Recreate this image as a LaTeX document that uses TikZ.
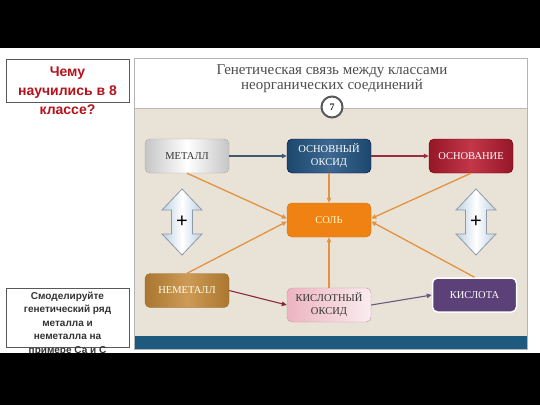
\documentclass[tikz,border=0pt]{standalone}
\usepackage{fontspec}
\setmainfont{Liberation Serif}
\setsansfont{Liberation Sans}
\usetikzlibrary{arrows.meta}
\definecolor{beige}{HTML}{E9E3D7}
\definecolor{pborder}{HTML}{B4B4B4}
\definecolor{band}{HTML}{1E5A7E}
\definecolor{titlec}{HTML}{4D4D4D}
\definecolor{qred}{HTML}{B5121B}
\definecolor{orangel}{HTML}{E29240}
\definecolor{dblfill}{HTML}{BCD0E2}
\definecolor{dbledge}{HTML}{8C9BAA}
\tikzset{
  box/.style={rounded corners=5pt, minimum width=84pt, minimum height=34pt, inner sep=0pt, align=center, font=\fontsize{10.5}{13}\selectfont},
  arr/.style={line width=1.1pt, -{Triangle[length=5pt,width=4.5pt]}},
  oarr/.style={arr, draw=orangel, line width=1.3pt},
  dbl/.style={draw=dbledge, line width=0.8pt, left color=dblfill, right color=dblfill, middle color=white},
}
\begin{document}
\begin{tikzpicture}[x=1pt,y=-1pt]
\useasboundingbox (0,0) rectangle (540,405);
\fill[white] (0,0) rectangle (540,405);
% panel
\fill[white] (134,58) rectangle (527,108);
\fill[beige] (134,108) rectangle (527,336);
\fill[band] (134,336) rectangle (527,349);
\draw[pborder, line width=0.8pt] (134,58) rectangle (527,349);
\draw[gray!55, line width=1pt] (134,108) -- (527,108);
\node[font=\fontsize{15}{15}\selectfont, text=titlec, align=center] (title) at (332,79) {Генетическая связь между классами\\неорганических соединений};
\node[circle, draw=gray!70!black, line width=2pt, fill=white, minimum size=21pt, inner sep=0pt, font=\fontsize{10}{10}\selectfont\bfseries, text=gray!30!black] (num) at (332,107) {7};
% nodes
\node[box, draw=gray!70, left color=gray!45, right color=gray!45, middle color=white, text=black!80] (met) at (187,156) {МЕТАЛЛ};
\node[box, draw=blue!30!black, left color={rgb,255:red,28;green,72;blue,110}, right color={rgb,255:red,28;green,72;blue,110}, middle color={rgb,255:red,60;green,104;blue,145}, text=white] (oo) at (329,156) {ОСНОВНЫЙ\\ОКСИД};
\node[box, draw=red!40!black, left color={rgb,255:red,150;green,22;blue,40}, right color={rgb,255:red,150;green,22;blue,40}, middle color={rgb,255:red,195;green,55;blue,72}, text=white] (osn) at (471,156) {ОСНОВАНИЕ};
\node[box, draw={rgb,255:red,210;green,110;blue,10}, fill={rgb,255:red,240;green,130;blue,20}, text=yellow!20!white] (sol) at (329,220) {СОЛЬ};
\node[box, draw={rgb,255:red,150;green,105;blue,45}, left color={rgb,255:red,170;green,118;blue,48}, right color={rgb,255:red,170;green,118;blue,48}, middle color={rgb,255:red,205;green,155;blue,85}, text=white!92!yellow] (nem) at (187,290.5) {НЕМЕТАЛЛ};
\node[box, draw={rgb,255:red,200;green,150;blue,160}, left color={rgb,255:red,236;green,180;blue,192}, right color={rgb,255:red,250;green,236;blue,240}, text=black!80] (ko) at (329,305) {КИСЛОТНЫЙ\\ОКСИД};
\node[box, draw=white, line width=1.5pt, fill={rgb,255:red,92;green,64;blue,120}, text=white] (kis) at (474.5,295) {КИСЛОТА};
% connectors
\draw[arr, draw={rgb,255:red,62;green,90;blue,112}] (met) -- (oo);
\draw[arr, draw={rgb,255:red,155;green,45;blue,62}] (oo) -- (osn);
\draw[arr, draw={rgb,255:red,135;green,40;blue,62}] (nem.east) -- (ko.west);
\draw[arr, draw={rgb,255:red,105;green,90;blue,130}] (ko.east) -- (kis.west);
\draw[oarr] (met.south) -- ([yshift=1.5pt]sol.west);
\draw[oarr] (nem.north) -- ([yshift=-1.5pt]sol.west);
\draw[oarr] (oo.south) -- (sol.north);
\draw[oarr] (ko.north) -- (sol.south);
\draw[oarr] (osn.south) -- ([yshift=1.5pt]sol.east);
\draw[oarr] (kis.north) -- ([yshift=-1.5pt]sol.east);
% double arrows
\foreach \cx/\nm in {182/pl, 476/pr}{
  \draw[dbl] (\cx,189) -- (\cx+20,210) -- (\cx+10.5,210) -- (\cx+10.5,234) -- (\cx+20,234) -- (\cx,255) -- (\cx-20,234) -- (\cx-10.5,234) -- (\cx-10.5,210) -- (\cx-20,210) -- cycle;
  \node[font=\sffamily\fontsize{20}{20}\selectfont, inner sep=0pt] (\nm) at (\cx,222) {+};
}
% left boxes
\draw[gray!70!black, line width=0.8pt] (6,59) rectangle (129,102);
\node[font=\sffamily\bfseries\fontsize{14}{19}\selectfont, text=qred, align=center] (q) at (67.5,90.5) {Чему\\научились в 8\\классе?};
\draw[gray!70!black, line width=0.8pt] (6,288) rectangle (129,347);
\node[font=\sffamily\bfseries\fontsize{10}{13.5}\selectfont, text=black!80, align=center] (task) at (67.5,323.5) {Смоделируйте\\генетический ряд\\металла и\\неметалла на\\примере Са и С};
% black bars
\fill[black] (0,0) rectangle (540,48);
\fill[black] (0,353) rectangle (540,405);
\end{tikzpicture}
\end{document}
